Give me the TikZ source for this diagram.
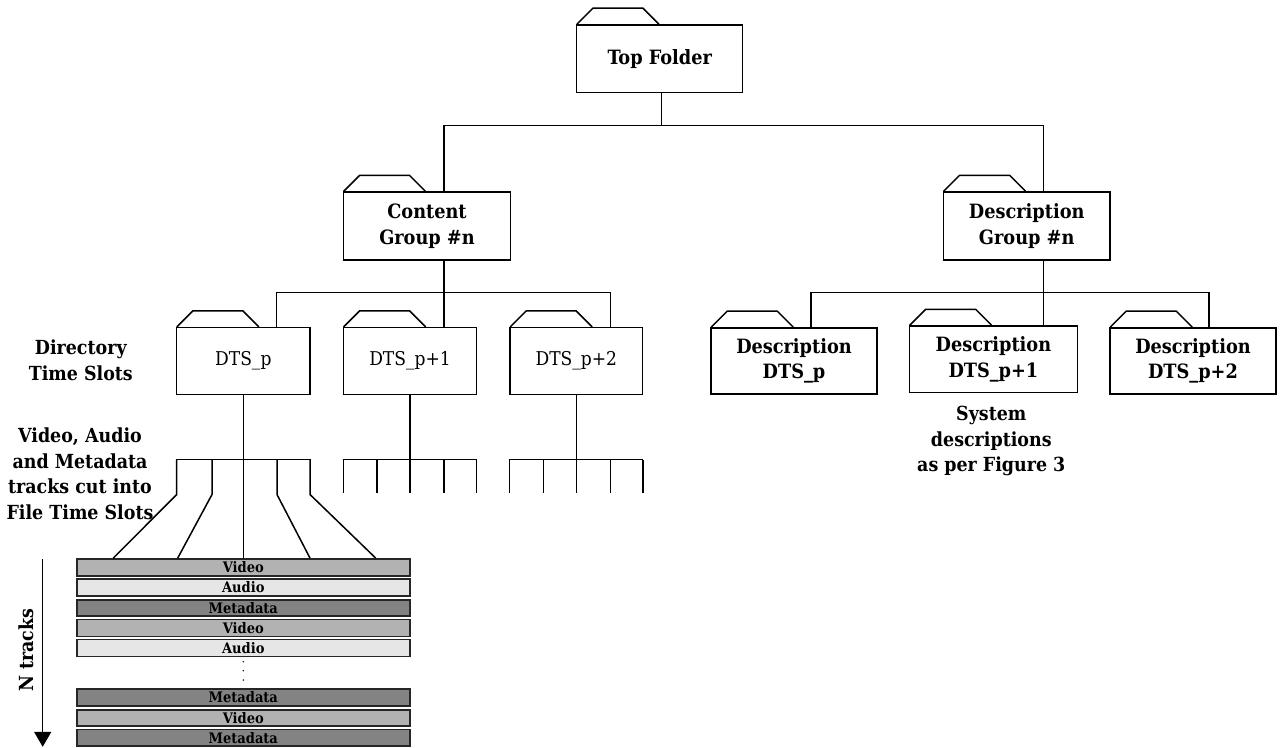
\documentclass[tikz,border=0pt]{standalone}
\usepackage{fontspec}
\setmainfont{DejaVu Serif Condensed}
\usetikzlibrary{arrows.meta}
\definecolor{vidc}{HTML}{B2B2B2}
\definecolor{audc}{HTML}{E6E6E6}
\definecolor{metc}{HTML}{838383}
\begin{document}
\begin{tikzpicture}[x=1pt,y=-1pt,
  conn/.style={line width=1.5pt},
  folder/.style={draw, line width=1.5pt, rectangle, inner sep=0pt, align=center,
     font=\fontsize{19}{25.5}\selectfont},
  bfolder/.style={folder, font=\fontsize{19.7}{25.5}\selectfont\bfseries},
  lbl/.style={align=center, inner sep=0pt, font=\fontsize{19.4}{25.5}\selectfont\bfseries},
  track/.style={draw=black!85, line width=1.8pt, rectangle, inner sep=0pt,
     minimum width=333.3pt, minimum height=17pt, font=\fontsize{14.5}{16}\selectfont\bfseries}
]
\useasboundingbox (0,0) rectangle (1284,747);
% folders
\node[bfolder, minimum width=166pt, minimum height=67.7pt] (top) at (659.7,58.8) {Top Folder};
\node[bfolder, minimum width=167.4pt, minimum height=67.7pt] (cg) at (427,226) {Content\\Group \#n};
\node[bfolder, minimum width=166.7pt, minimum height=68pt] (dg) at (1026.7,226) {Description\\Group \#n};
\node[folder, minimum width=133.3pt, minimum height=66.7pt] (d0) at (243.3,361) {DTS\_p};
\node[folder, minimum width=133.3pt, minimum height=66.7pt] (d1) at (410,361) {DTS\_p+1};
\node[folder, minimum width=132.7pt, minimum height=66.7pt] (d2) at (576.3,361) {DTS\_p+2};
\node[bfolder, minimum width=166pt, minimum height=66.3pt] (e0) at (794,361) {Description\\DTS\_p};
\node[bfolder, minimum width=168pt, minimum height=66.3pt] (e1) at (993.4,359.2) {Description\\DTS\_p+1};
\node[bfolder, minimum width=166pt, minimum height=66.3pt] (e2) at (1193,361) {Description\\DTS\_p+2};
% folder tabs
\foreach \n in {top,cg,dg,d0,d1,d2,e0,e1,e2}
  \draw[conn, line join=miter] ([xshift=1pt]\n.north west) -- ++(16,-16) -- ++(50,0) -- ++(16,16);
% level 1 bus
\coordinate (b1) at (0,125.5);
\coordinate (topS) at ([xshift=2pt]top.south);
\coordinate (cgT) at ([xshift=17pt]cg.north);
\coordinate (dgT) at ([xshift=17pt]dg.north);
\draw[conn] (topS) -- (topS |- b1);
\draw[conn] (cgT) -- (cgT |- b1) -- (dgT |- b1) -- (dgT);
% level 2 buses
\coordinate (b2) at (0,292.5);
\coordinate (cgS) at ([xshift=17pt]cg.south);
\coordinate (dgS) at ([xshift=17pt]dg.south);
\coordinate (d0T) at ([xshift=33.4pt]d0.north);
\coordinate (d1T) at ([xshift=34pt]d1.north);
\coordinate (d2T) at ([xshift=34.4pt]d2.north);
\coordinate (e0T) at ([xshift=17pt]e0.north);
\coordinate (e1T) at ([xshift=50.1pt]e1.north);
\coordinate (e2T) at ([xshift=16pt]e2.north);
\draw[conn] (cgS) -- (cgS |- b2);
\draw[conn] (d0T) -- (d0T |- b2) -- (d2T |- b2) -- (d2T);
\draw[conn] (d1T) -- (d1T |- b2);
\draw[conn] (dgS) -- (dgS |- b2);
\draw[conn] (e0T) -- (e0T |- b2) -- (e2T |- b2) -- (e2T);
\draw[conn] (e1T) -- (e1T |- b2);
% rakes
\coordinate (r) at (0,459.5);
\foreach \n in {d0,d1,d2} {
  \draw[conn] (\n.south) -- (\n.south |- r);
  \draw[conn] (\n.south west |- r) -- (\n.south east |- r);
}
\foreach \n in {d1,d2} {
  \foreach \dx in {-66.7,-33,0,34,66.7}
    \draw[conn] ([xshift=\dx pt]\n.south |- r) -- ++(0,33);
}
% tracks
\node[track, fill=vidc, minimum height=17pt] (t1) at (243.3,567.5) {Video};
\node[track, fill=audc, minimum height=17pt] (t2) at (243.3,587.5) {Audio};
\node[track, fill=metc, minimum height=16pt] (t3) at (243.3,608) {Metadata};
\node[track, fill=vidc, minimum height=17pt] (t4) at (243.3,628) {Video};
\node[track, fill=audc, minimum height=17pt] (t5) at (243.3,648) {Audio};
\node[track, fill=metc, minimum height=17pt] (t6) at (243.3,697.5) {Metadata};
\node[track, fill=vidc, minimum height=16pt] (t7) at (243.3,718) {Video};
\node[track, fill=metc, minimum height=16.5pt] (t8) at (243.3,737.7) {Metadata};
\foreach \yy in {661.7,670.7,680} \fill (243.3,\yy) circle (0.8pt);
% DTS_p fan-out
\foreach \dx/\ex in {-66.6/-130,-31.3/-65.6,0/0,33.7/66.7,66.7/132.4}
  \draw[conn] ([xshift=\dx pt]d0.south |- r) -- ++(0,35) -- ([xshift=\ex pt]t1.north);
% N tracks arrow
\coordinate (aS) at (42.7,559);
\coordinate (aE) at (42.7,746.8);
\draw[conn, -{Triangle[width=17pt,length=15pt]}] (aS) -- (aE);
\node[lbl, rotate=90] (nt) at (26,650) {N tracks};
% labels
\node[lbl] (lab1) at (80.8,360.5) {Directory\\Time Slots};
\node[lbl] (lab2) at (80,473.7) {Video, Audio\\and Metadata\\tracks cut into\\File Time Slots};
\node[lbl] (lab3) at (991.3,441) {System\\descriptions\\as per Figure 3};
\end{tikzpicture}
\end{document}
